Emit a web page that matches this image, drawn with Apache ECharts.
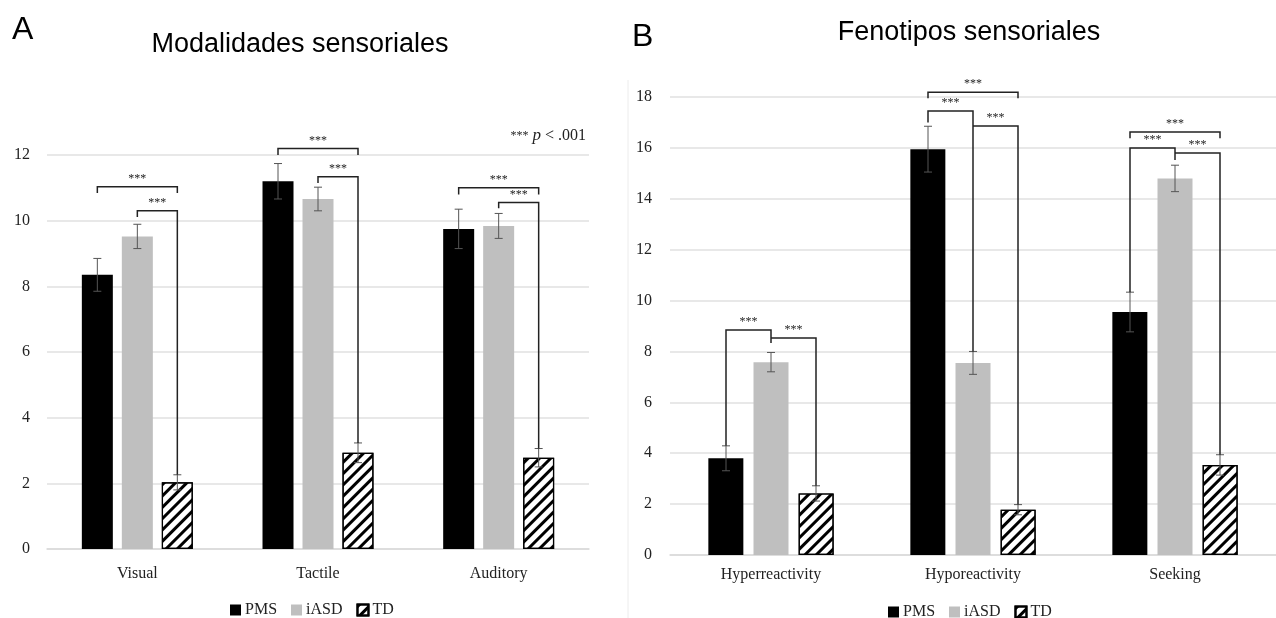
<!DOCTYPE html>
<html>
<head>
<meta charset="utf-8">
<script src="https://cdn.jsdelivr.net/npm/echarts@6/dist/echarts.min.js"></script>
<style>
  html, body { margin: 0; padding: 0; background: #fff; }
  #main { width: 1276px; height: 618px; }
</style>
</head>
<body>
<div id="main"></div>
<script>
// Panel A: sensory modalities
var modalCats = ['Visual', 'Tactile', 'Auditory'];
var modalPMS = [8.35, 11.2, 9.75];
var modalIASD = [9.52, 10.66, 9.84];
var modalTD = [2.03, 2.93, 2.78];
var modalPMSErr = [0.5, 0.54, 0.6];
var modalIASDErr = [0.37, 0.36, 0.38];
var modalTDErr = [0.23, 0.3, 0.28];

// Panel B: sensory phenotypes
var phenoCats = ['Hyperreactivity', 'Hyporeactivity', 'Seeking'];
var phenoPMS = [3.8, 15.95, 9.55];
var phenoIASD = [7.58, 7.55, 14.8];
var phenoTD = [2.42, 1.78, 3.54];
var phenoPMSErr = [0.49, 0.9, 0.78];
var phenoIASDErr = [0.38, 0.45, 0.52];
var phenoTDErr = [0.3, 0.2, 0.4];

// significance brackets: [category, fromGroup, toGroup, level, leftEnd, rightEnd]
// 'bar' = leg goes down to the top of that group's error bar, null = no leg
var modalBrackets = [
  [0, 0, 2, 11.03, 10.84, 10.84],
  [0, 1, 2, 10.3, 10.11, 'bar'],
  [1, 0, 2, 12.2, 12.0, 12.0],
  [1, 1, 2, 11.34, 11.15, 'bar'],
  [2, 0, 2, 11.0, 10.8, 10.8],
  [2, 1, 2, 10.55, 10.38, 'bar']
];
var phenoBrackets = [
  [0, 0, 1, 8.84, 'bar', 8.33],
  [0, 1, 2, 8.53, null, 'bar'],
  [1, 0, 2, 18.19, 17.95, 17.95],
  [1, 0, 1, 17.45, 17.0, 'bar'],
  [1, 1, 2, 16.86, null, 'bar'],
  [2, 0, 2, 16.62, 16.38, 16.38],
  [2, 0, 1, 16.0, 'bar', 15.52],
  [2, 1, 2, 15.8, null, 'bar']
];

var groupNames = ['PMS', 'iASD', 'TD'];
var serif = '"Liberation Serif", "DejaVu Serif", serif';
var sans = '"Liberation Sans", Arial, sans-serif';

var hatch = {
  symbol: 'rect',
  symbolSize: 1,
  dashArrayX: [1, 0],
  dashArrayY: [3, 5],
  rotation: -Math.PI / 4,
  color: '#000'
};
var groupStyles = [
  { color: '#000' },
  { color: '#bfbfbf' },
  { color: '#fff', borderColor: '#000', borderWidth: 1.2, decal: hatch }
];

function errData(means, errs) {
  var out = [];
  for (var g = 0; g < 3; g++) {
    for (var c = 0; c < means[g].length; c++) {
      out.push([c, g, means[g][c], errs[g][c]]);
    }
  }
  return out;
}

function bracketData(list, means, errs) {
  return list.map(function (b) {
    function end(v, g) {
      if (v === 'bar') return means[g][b[0]] + errs[g][b[0]];
      if (v === null) return b[3];
      return v;
    }
    return [b[0], b[1], b[2], b[3], end(b[4], b[1]), end(b[5], b[2])];
  });
}

function errorRender(step) {
  return function (params, api) {
    var c = api.value(0), g = api.value(1), m = api.value(2), e = api.value(3);
    var x = api.coord([c, m])[0] + (g - 1) * step;
    var top = api.coord([c, m + e])[1];
    var bot = api.coord([c, m - e])[1];
    var st = { stroke: '#555', lineWidth: 1 };
    return {
      type: 'group',
      children: [
        { type: 'line', shape: { x1: x, y1: top, x2: x, y2: bot }, style: st },
        { type: 'line', shape: { x1: x - 4, y1: top, x2: x + 4, y2: top }, style: st },
        { type: 'line', shape: { x1: x - 4, y1: bot, x2: x + 4, y2: bot }, style: st }
      ]
    };
  };
}

function bracketRender(step) {
  return function (params, api) {
    var c = api.value(0), g1 = api.value(1), g2 = api.value(2);
    var cx = api.coord([c, 0])[0];
    var x1 = cx + (g1 - 1) * step, x2 = cx + (g2 - 1) * step;
    var y = api.coord([c, api.value(3)])[1];
    var yl = api.coord([c, api.value(4)])[1];
    var yr = api.coord([c, api.value(5)])[1];
    return {
      type: 'group',
      children: [
        {
          type: 'polyline',
          shape: { points: [[x1, yl], [x1, y], [x2, y], [x2, yr]] },
          style: { stroke: '#222', lineWidth: 1.5, fill: null }
        },
        {
          type: 'text',
          x: (x1 + x2) / 2, y: y - 2,
          style: { text: '***', fill: '#222', font: '12px ' + serif, align: 'center', verticalAlign: 'bottom' }
        }
      ]
    };
  };
}

function barSeries(axis, means, width) {
  return means.map(function (d, g) {
    return {
      name: groupNames[g],
      type: 'bar',
      xAxisIndex: axis,
      yAxisIndex: axis,
      data: d,
      barWidth: width,
      barGap: '29%',
      itemStyle: groupStyles[g],
      emphasis: { disabled: true }
    };
  });
}

var modalMeans = [modalPMS, modalIASD, modalTD];
var modalErrs = [modalPMSErr, modalIASDErr, modalTDErr];
var phenoMeans = [phenoPMS, phenoIASD, phenoTD];
var phenoErrs = [phenoPMSErr, phenoIASDErr, phenoTDErr];

function catAxis(idx, cats, margin) {
  return {
    type: 'category', gridIndex: idx, data: cats,
    axisTick: { show: false },
    axisLine: { lineStyle: { color: '#d9d9d9', width: 1.5 } },
    axisLabel: { color: '#222', fontFamily: serif, fontSize: 16, margin: margin }
  };
}
function valAxis(idx, max, margin) {
  return {
    type: 'value', gridIndex: idx, min: 0, max: max, interval: 2,
    axisLine: { show: false }, axisTick: { show: false },
    splitLine: { lineStyle: { color: '#e0e0e0', width: 1.5 } },
    axisLabel: { color: '#222', fontFamily: serif, fontSize: 16, margin: margin }
  };
}
function legendAt(left, top) {
  return {
    left: left, top: top, data: groupNames,
    icon: 'rect', itemWidth: 11, itemHeight: 11, itemGap: 14,
    selectedMode: false,
    textStyle: { fontFamily: serif, fontSize: 16, color: '#222', padding: [0, 0, 0, -1] }
  };
}

var chart = echarts.init(document.getElementById('main'));
chart.setOption({
  animation: false,
  backgroundColor: '#fff',
  grid: [
    { left: 47, top: 155, width: 542, height: 394 },
    { left: 670, top: 97, width: 606, height: 458 }
  ],
  xAxis: [catAxis(0, modalCats, 17), catAxis(1, phenoCats, 12)],
  yAxis: [valAxis(0, 12, 17), valAxis(1, 18, 18)],
  legend: [legendAt(225, 597), legendAt(883, 599)],
  graphic: [
    { type: 'text', x: 12, y: 30, style: { text: 'A', font: '32px ' + sans, fill: '#000', verticalAlign: 'middle' } },
    { type: 'text', x: 300, y: 45, style: { text: 'Modalidades sensoriales', font: '27px ' + sans, fill: '#000', align: 'center', verticalAlign: 'middle' } },
    { type: 'text', x: 632, y: 37, style: { text: 'B', font: '32px ' + sans, fill: '#000', verticalAlign: 'middle' } },
    { type: 'text', x: 969, y: 33, style: { text: 'Fenotipos sensoriales', font: '27px ' + sans, fill: '#000', align: 'center', verticalAlign: 'middle' } },
    { type: 'line', shape: { x1: 628, y1: 80, x2: 628, y2: 618 }, style: { stroke: '#ececec', lineWidth: 1 } },
    {
      type: 'text', x: 586, y: 136,
      style: {
        text: '{s|***} {i|p} < .001', align: 'right', verticalAlign: 'middle', fill: '#222',
        font: '16px ' + serif,
        rich: {
          s: { fontFamily: serif, fontSize: 12, fill: '#222' },
          i: { fontFamily: serif, fontSize: 17, fontStyle: 'italic', fill: '#222' }
        }
      }
    }
  ],
  series: []
    .concat(barSeries(0, modalMeans, 31))
    .concat(barSeries(1, phenoMeans, 35))
    .concat([
      { type: 'custom', xAxisIndex: 0, yAxisIndex: 0, renderItem: errorRender(40), data: errData(modalMeans, modalErrs), encode: { x: 0, y: 2 }, z: 5, silent: true },
      { type: 'custom', xAxisIndex: 1, yAxisIndex: 1, renderItem: errorRender(45), data: errData(phenoMeans, phenoErrs), encode: { x: 0, y: 2 }, z: 5, silent: true },
      { type: 'custom', xAxisIndex: 0, yAxisIndex: 0, renderItem: bracketRender(40), data: bracketData(modalBrackets, modalMeans, modalErrs), encode: { x: 0, y: 3 }, clip: false, z: 6, silent: true },
      { type: 'custom', xAxisIndex: 1, yAxisIndex: 1, renderItem: bracketRender(45), data: bracketData(phenoBrackets, phenoMeans, phenoErrs), encode: { x: 0, y: 3 }, clip: false, z: 6, silent: true }
    ])
});
</script>
</body>
</html>
